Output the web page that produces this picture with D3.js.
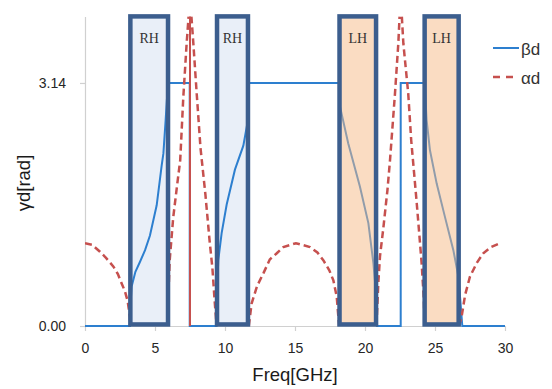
<!DOCTYPE html>
<html>
<head>
<meta charset="utf-8">
<script src="https://cdn.jsdelivr.net/npm/d3@7"></script>
<style>
  body { margin: 0; background: #fff; }
  svg { display: block; }
</style>
</head>
<body>
<div id="app"></div>
<script>
// ---- data ----
const freqTicks = [0, 5, 10, 15, 20, 25, 30];
const gammaTicks = [0, 3.14];

// beta*d (solid blue)
const betaFreq = [0, 3.22, 3.26, 3.33, 3.6, 3.93, 4.29, 4.64, 5.12, 5.48, 5.6, 5.76, 5.86, 5.92,
  7.48, 7.48, 9.4, 9.44, 9.52, 9.76, 10.12, 10.71, 11.31, 11.6, 11.68, 11.72,
  18.15, 18.22, 18.8, 19.64, 20.24, 20.6, 20.75, 20.82, 20.85,
  22.55, 22.55, 24.26, 24.4, 24.64, 25.12, 25.71, 26.31, 26.67, 26.8, 26.95, 30];
const betaVal = [0, 0, 0.3, 0.51, 0.7, 0.83, 0.98, 1.17, 1.56, 2.08, 2.23, 2.66, 2.95, 3.14,
  3.14, 0, 0, 0.5, 0.85, 1.2, 1.57, 2.02, 2.33, 2.62, 3.0, 3.14,
  3.14, 2.83, 2.36, 1.8, 1.33, 0.81, 0.5, 0.2, 0,
  0, 3.14, 3.14, 2.66, 2.27, 1.84, 1.41, 0.98, 0.64, 0.35, 0, 0];

// alpha*d (dashed red), NaN = gap
const alphaFreq = [0, 0.5, 1.07, 1.5, 2.02, 2.35, 2.62, 2.85, 3.05, 3.2, 3.24, NaN,
  5.93, 5.97, 6.05, 6.3, 6.6, 6.8, 7.02, 7.26, 7.4, NaN,
  7.6, 7.74, 7.98, 8.25, 8.6, 8.9, 9.1, 9.25, 9.4, NaN,
  11.7, 11.9, 12.3, 12.74, 13.2, 13.7, 14.17, 15.07, 16.07, 16.6, 17.02, 17.45, 17.74, 17.98, 18.15, NaN,
  20.82, 20.95, 21.07, 21.3, 21.6, 21.79, 22.14, 22.38, 22.47, NaN,
  22.63, 22.74, 23.09, 23.3, 23.69, 23.93, 24.05, 24.2, 24.26, NaN,
  26.72, 26.9, 27.15, 27.5, 28.0, 28.45, 29.0, 29.64];
const alphaVal = [1.07, 1.05, 0.96, 0.88, 0.77, 0.67, 0.55, 0.45, 0.32, 0.12, 0, NaN,
  0, 0.45, 0.85, 1.4, 1.85, 2.14, 2.95, 3.65, 4.0, NaN,
  4.0, 3.65, 3.0, 2.3, 1.7, 1.1, 0.75, 0.35, 0, NaN,
  0, 0.29, 0.52, 0.68, 0.86, 0.94, 1.02, 1.07, 1.02, 0.95, 0.85, 0.72, 0.59, 0.38, 0, NaN,
  0, 0.55, 0.9, 1.25, 1.75, 2.15, 3.0, 3.65, 4.0, NaN,
  4.0, 3.65, 3.0, 2.4, 1.6, 1.07, 0.8, 0.35, 0, NaN,
  0, 0.12, 0.4, 0.64, 0.82, 0.94, 1.02, 1.07];

// pole marker (solid red vertical)
const poleFreq = [7.5];

// pass bands
const bandType = ["RH", "RH", "LH", "LH"];
const bandStart = [3.24, 9.43, 18.18, 24.26];
const bandEnd = [5.93, 11.64, 20.79, 26.69];

const legendNames = ["\u03b2d", "\u03b1d"];

// ---- drawing ----
const W = 552, H = 389;
const svg = d3.select("#app").append("svg")
    .attr("width", W)
    .attr("height", H)
    .style("font-family", "Arial, 'Liberation Sans', sans-serif");

const x = d3.scaleLinear().domain([0, 30]).range([85, 505]);
const y = d3.scaleLinear().domain([0, 4]).range([326, 16.4]);

const blue = "#2d7fcf", red = "#c6504e", boxStroke = "#3c5e8e";

svg.append("defs").append("clipPath").attr("id", "plotclip")
  .append("rect")
    .attr("x", x(0)).attr("y", y(4))
    .attr("width", x(30) - x(0)).attr("height", y(0) - y(4));

// axes
const yAxis = svg.append("g")
    .attr("transform", `translate(${x(0)},0)`)
    .call(d3.axisLeft(y).tickValues(gammaTicks).tickFormat(d3.format(".2f"))
      .tickSize(5).tickSizeOuter(0).tickPadding(14));
const xAxis = svg.append("g")
    .attr("transform", `translate(0,${y(0)})`)
    .call(d3.axisBottom(x).tickValues(freqTicks).tickFormat(d3.format("d"))
      .tickSize(5).tickSizeOuter(0).tickPadding(12));
[yAxis, xAxis].forEach(a => {
  a.select(".domain").attr("stroke", "#d0d0d0").attr("stroke-width", 1.2);
  a.selectAll(".tick line").attr("stroke", "#d0d0d0").attr("stroke-width", 1.2);
  a.selectAll("text").attr("fill", "#262626").style("font-size", "14px")
    .style("font-family", "Arial, 'Liberation Sans', sans-serif");
});

const bands = bandType.map((t, i) => ({type: t, f0: bandStart[i], f1: bandEnd[i]}));
const boxY0 = y(4), boxY1 = y(0.02);

// RH fills under the curves
svg.append("g").selectAll("rect")
  .data(bands.filter(b => b.type === "RH"))
  .join("rect")
    .attr("x", d => x(d.f0)).attr("y", boxY0)
    .attr("width", d => x(d.f1) - x(d.f0)).attr("height", boxY1 - boxY0)
    .attr("fill", "#e9eff8");

const beta = betaFreq.map((f, i) => [f, betaVal[i]]);
const alpha = alphaFreq.map((f, i) => [f, alphaVal[i]]);

const line = d3.line()
    .defined(d => !isNaN(d[0]) && !isNaN(d[1]))
    .x(d => x(d[0])).y(d => y(d[1]));

svg.append("path")
    .datum(beta)
    .attr("d", line)
    .attr("fill", "none")
    .attr("stroke", blue)
    .attr("stroke-width", 2);

svg.append("g").attr("clip-path", "url(#plotclip)")
  .append("path")
    .datum(alpha)
    .attr("d", line)
    .attr("fill", "none")
    .attr("stroke", red)
    .attr("stroke-width", 2.5)
    .attr("stroke-dasharray", "7,4");

svg.append("g").selectAll("line")
  .data(poleFreq)
  .join("line")
    .attr("x1", d => x(d)).attr("x2", d => x(d))
    .attr("y1", y(0)).attr("y2", y(4))
    .attr("stroke", red)
    .attr("stroke-width", 2);

// LH fills over the curves (translucent) and all box frames
svg.append("g").selectAll("rect")
  .data(bands)
  .join("rect")
    .attr("x", d => x(d.f0)).attr("y", boxY0)
    .attr("width", d => x(d.f1) - x(d.f0)).attr("height", boxY1 - boxY0)
    .attr("fill", d => d.type === "LH" ? "#f6b985" : "none")
    .attr("fill-opacity", 0.5)
    .attr("stroke", boxStroke)
    .attr("stroke-width", 4.5);

svg.append("g").selectAll("text")
  .data(bands)
  .join("text")
    .attr("x", d => (x(d.f0) + x(d.f1)) / 2)
    .attr("y", 43)
    .attr("text-anchor", "middle")
    .attr("fill", "#333")
    .style("font-family", "'Liberation Serif', 'Times New Roman', serif")
    .style("font-size", "14px")
    .text(d => d.type);

// axis titles
svg.append("text")
    .attr("x", 295).attr("y", 381)
    .attr("text-anchor", "middle")
    .attr("fill", "#1a1a1a")
    .style("font-size", "18.5px")
    .text("Freq[GHz]");
svg.append("text")
    .attr("transform", "translate(30,183) rotate(-90)")
    .attr("text-anchor", "middle")
    .attr("fill", "#1a1a1a")
    .style("font-size", "18.5px")
    .text("\u03b3d[rad]");

// legend
const legend = svg.append("g").selectAll("g")
  .data(legendNames)
  .join("g")
    .attr("transform", (d, i) => `translate(493,${48 + i * 29})`);
legend.append("line")
    .attr("x1", 0).attr("x2", 26)
    .attr("stroke", (d, i) => i === 0 ? blue : red)
    .attr("stroke-width", (d, i) => i === 0 ? 2 : 2.5)
    .attr("stroke-dasharray", (d, i) => i === 0 ? null : "7,6");
legend.append("text")
    .attr("x", 28).attr("y", 7)
    .attr("fill", "#333")
    .style("font-size", "17px")
    .text(d => d);
</script>
</body>
</html>
